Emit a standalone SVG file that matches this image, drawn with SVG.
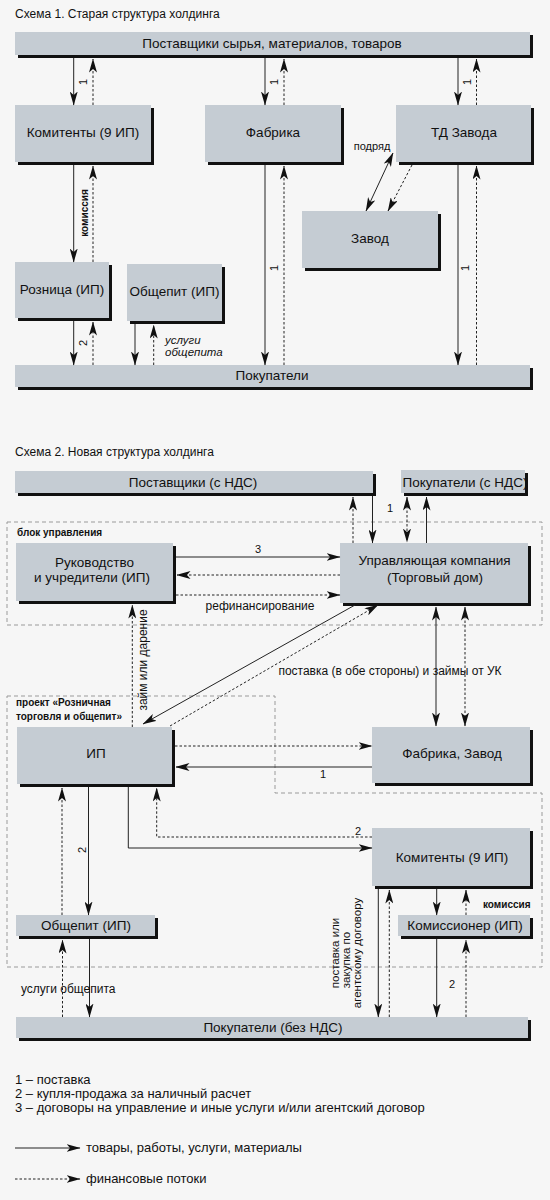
<svg xmlns="http://www.w3.org/2000/svg" width="550" height="1200" viewBox="0 0 550 1200">
<style>
.bg{fill:#f6f6f6}
.box{fill:#c5ccd3}
.sh{fill:#111}
.t{font-family:"Liberation Sans",Arial,sans-serif;font-size:13.5px;fill:#111;text-anchor:middle}
.h{font-family:"Liberation Sans",Arial,sans-serif;font-size:12px;fill:#111}
.l{font-family:"Liberation Sans",Arial,sans-serif;font-size:12px;fill:#111}
.lg{font-family:"Liberation Sans",Arial,sans-serif;font-size:13px;fill:#111}
.lm{font-family:"Liberation Sans",Arial,sans-serif;font-size:12px;fill:#111;text-anchor:middle}
.n{font-family:"Liberation Sans",Arial,sans-serif;font-size:11px;fill:#111;text-anchor:middle}
.b{font-family:"Liberation Sans",Arial,sans-serif;font-size:10px;font-weight:bold;fill:#111}
.bm{font-family:"Liberation Sans",Arial,sans-serif;font-size:10px;font-weight:bold;fill:#111;text-anchor:middle}
.i{font-family:"Liberation Sans",Arial,sans-serif;font-size:11.5px;font-style:italic;fill:#111}
.s{fill:none;stroke:#222;stroke-width:1}
.d{fill:none;stroke:#222;stroke-width:1;stroke-dasharray:2.5 2}
.blk{fill:none;stroke:#9a9a9a;stroke-width:1;stroke-dasharray:4 3}
.e{marker-end:url(#ah)}
.se{marker-start:url(#ah);marker-end:url(#ah)}
</style>
<defs>
<marker id="ah" viewBox="0 0 14 8" refX="13.5" refY="4" markerWidth="14" markerHeight="8" orient="auto-start-reverse" markerUnits="userSpaceOnUse">
<path d="M0,0 L14,4 L0,8 L3.5,4 z" fill="#111"/>
</marker>
</defs>
<rect class="bg" x="0" y="0" width="550" height="1200"/>

<text class="h" x="15" y="18">Схема 1. Старая структура холдинга</text>

<g id="s1-suppliers"><rect class="sh" x="18" y="35" width="515" height="23"/><rect class="box" x="15" y="32" width="515" height="23"/><text class="t" x="272" y="48">Поставщики сырья, материалов, товаров</text></g>
<g id="s1-komitenty"><rect class="sh" x="18" y="108" width="136" height="57"/><rect class="box" x="15" y="105" width="136" height="57"/><text class="t" x="83" y="137">Комитенты (9 ИП)</text></g>
<g id="s1-fabrika"><rect class="sh" x="208" y="108" width="136" height="57"/><rect class="box" x="205" y="105" width="136" height="57"/><text class="t" x="273" y="137">Фабрика</text></g>
<g id="s1-td"><rect class="sh" x="399" y="108" width="135" height="57"/><rect class="box" x="396" y="105" width="135" height="57"/><text class="t" x="464" y="137">ТД Завода</text></g>
<g id="s1-zavod"><rect class="sh" x="305" y="214" width="136" height="57"/><rect class="box" x="302" y="211" width="136" height="57"/><text class="t" x="370" y="243">Завод</text></g>
<g id="s1-roznica"><rect class="sh" x="18" y="265" width="94" height="56"/><rect class="box" x="15" y="262" width="94" height="56"/><text class="t" x="62" y="294">Розница (ИП)</text></g>
<g id="s1-obshchepit"><rect class="sh" x="130" y="267" width="95" height="57"/><rect class="box" x="127" y="264" width="95" height="57"/><text class="t" x="174.5" y="296">Общепит (ИП)</text></g>
<g id="s1-pokupateli"><rect class="sh" x="18" y="368" width="515" height="22"/><rect class="box" x="15" y="365" width="515" height="22"/><text class="t" x="272" y="380">Покупатели</text></g>

<text class="h" x="15" y="456">Схема 2. Новая структура холдинга</text>

<g id="s2-blocks">
<rect class="blk" x="7" y="522" width="535" height="103"/>
<path class="blk" d="M7,696 H275 V793 H542 V967 H7 Z"/>
<text class="b" x="17" y="536">блок управления</text>
<text class="b" x="16" y="706">проект «Розничная</text>
<text class="b" x="16" y="720">торговля и общепит»</text>
</g>

<g id="s2-suppliers"><rect class="sh" x="18" y="474" width="358" height="22"/><rect class="box" x="15" y="471" width="358" height="22"/><text class="t" x="193" y="487">Поставщики (с НДС)</text></g>
<g id="s2-buyers-vat"><rect class="sh" x="404" y="473" width="124" height="23"/><rect class="box" x="401" y="470" width="124" height="23"/><text class="t" x="465" y="487">Покупатели (с НДС)</text></g>
<g id="s2-management"><rect class="sh" x="19" y="546" width="157" height="58"/><rect class="box" x="16" y="543" width="157" height="58"/><text class="t" x="94.5" y="567">Руководство</text><text class="t" x="92" y="582">и учредители (ИП)</text></g>
<g id="s2-uk"><rect class="sh" x="343" y="546" width="188" height="60"/><rect class="box" x="340" y="543" width="188" height="60"/><text class="t" x="434.5" y="565">Управляющая компания</text><text class="t" x="435" y="582">(Торговый дом)</text></g>
<g id="s2-ip"><rect class="sh" x="20" y="730" width="155" height="57"/><rect class="box" x="17" y="727" width="155" height="57"/><text class="t" x="96" y="758">ИП</text></g>
<g id="s2-factory"><rect class="sh" x="375" y="730" width="158" height="56"/><rect class="box" x="372" y="727" width="158" height="56"/><text class="t" x="452" y="758">Фабрика, Завод</text></g>
<g id="s2-komitenty"><rect class="sh" x="375" y="831" width="158" height="58"/><rect class="box" x="372" y="828" width="158" height="58"/><text class="t" x="452" y="862">Комитенты (9 ИП)</text></g>
<g id="s2-obshchepit"><rect class="sh" x="19" y="918" width="139" height="21"/><rect class="box" x="16" y="915" width="139" height="21"/><text class="t" x="86" y="930">Общепит (ИП)</text></g>
<g id="s2-komissioner"><rect class="sh" x="401" y="918" width="132" height="21"/><rect class="box" x="398" y="915" width="132" height="21"/><text class="t" x="465" y="930">Комиссионер (ИП)</text></g>
<g id="s2-buyers"><rect class="sh" x="19" y="1020" width="512" height="21"/><rect class="box" x="16" y="1017" width="512" height="21"/><text class="t" x="273" y="1032">Покупатели (без НДС)</text></g>

<g id="connectors">
<line class="s e" x1="73.7" y1="58" x2="73.7" y2="105"/>
<line class="d e" x1="93" y1="105" x2="93" y2="59"/>
<line class="s e" x1="265" y1="58" x2="265" y2="105"/>
<line class="d e" x1="284" y1="105" x2="284" y2="59"/>
<line class="s e" x1="458" y1="58" x2="458" y2="105"/>
<line class="d e" x1="476.5" y1="105" x2="476.5" y2="59"/>
<line class="s e" x1="73.7" y1="165" x2="73.7" y2="262"/>
<line class="d e" x1="93" y1="262" x2="93" y2="166"/>
<line class="s e" x1="73.7" y1="321" x2="73.7" y2="365"/>
<line class="d e" x1="93" y1="365" x2="93" y2="322"/>
<line class="s e" x1="135" y1="324" x2="135" y2="365"/>
<line class="d e" x1="153.7" y1="365" x2="153.7" y2="325"/>
<line class="s e" x1="265" y1="165" x2="265" y2="365"/>
<line class="d e" x1="284" y1="365" x2="284" y2="166"/>
<line class="s e" x1="458" y1="165" x2="458" y2="365"/>
<line class="d e" x1="476.5" y1="365" x2="476.5" y2="166"/>
<line class="s se" x1="393" y1="153" x2="366" y2="211"/>
<line class="d e" x1="412" y1="165" x2="388" y2="211"/>
<text class="n" transform="translate(87,82) rotate(-90)">1</text>
<text class="n" transform="translate(278,82) rotate(-90)">1</text>
<text class="n" transform="translate(471,82) rotate(-90)">1</text>
<text class="bm" transform="translate(87.5,213) rotate(-90)">комиссия</text>
<text class="n" transform="translate(87,343) rotate(-90)">2</text>
<text class="n" transform="translate(278,268) rotate(-90)">1</text>
<text class="n" transform="translate(469,268) rotate(-90)">1</text>
<text class="i" x="165" y="344">услуги</text>
<text class="i" x="165" y="356">общепита</text>
<text class="n" x="372" y="150">подряд</text>

<line class="d e" x1="353" y1="543" x2="353" y2="497"/>
<line class="s e" x1="372.5" y1="496" x2="372.5" y2="543"/>
<line class="d se" x1="407" y1="497" x2="407" y2="542"/>
<line class="s e" x1="426.5" y1="543" x2="426.5" y2="497"/>
<text class="n" x="390" y="512">1</text>
<line class="s e" x1="176" y1="557" x2="340" y2="557"/>
<text class="n" x="258" y="553">3</text>
<line class="d e" x1="340" y1="575" x2="177" y2="575"/>
<line class="d e" x1="176" y1="595" x2="340" y2="595"/>
<text class="lm" x="260" y="610">рефинансирование</text>
<line class="s e" x1="355" y1="605" x2="143" y2="724"/>
<line class="d e" x1="170" y1="726" x2="378" y2="605"/>
<line class="d e" x1="132.3" y1="727" x2="132.3" y2="605"/>
<text class="lm" transform="translate(147,660) rotate(-90)">займ или дарение</text>
<line class="s se" x1="436" y1="607" x2="436" y2="726"/>
<line class="d se" x1="465" y1="607" x2="465" y2="726"/>
<text class="lm" x="390" y="675">поставка (в обе стороны) и займы от УК</text>
<line class="d e" x1="175" y1="746" x2="372" y2="746"/>
<line class="s e" x1="372" y1="767" x2="176" y2="767"/>
<text class="n" x="323" y="778">1</text>
<line class="d e" x1="62" y1="915" x2="62" y2="788"/>
<line class="s e" x1="88.5" y1="787" x2="88.5" y2="915"/>
<text class="n" transform="translate(86,850) rotate(-90)">2</text>
<path class="s e" d="M128.3,787 V848 H372"/>
<path class="d e" d="M372,837 H156.7 V788"/>
<text class="n" x="358" y="835">2</text>
<line class="d e" x1="62.5" y1="1017" x2="62.5" y2="940"/>
<line class="s e" x1="89.5" y1="939" x2="89.5" y2="1017"/>
<text class="l" x="21" y="993">услуги общепита</text>
<line class="s e" x1="378.3" y1="889" x2="378.3" y2="1017"/>
<line class="d e" x1="389.3" y1="1017" x2="389.3" y2="890"/>
<line class="s e" x1="436.7" y1="889" x2="436.7" y2="915"/>
<line class="d e" x1="466" y1="915" x2="466" y2="890"/>
<text class="b" x="483" y="908">комиссия</text>
<line class="s e" x1="436.7" y1="939" x2="436.7" y2="1017"/>
<line class="d e" x1="466" y1="1017" x2="466" y2="940"/>
<text class="n" x="452" y="988">2</text>
<text class="lm" style="font-size:11.5px" transform="translate(338.5,953) rotate(-90)">поставка или</text>
<text class="lm" style="font-size:11.5px" transform="translate(349.5,960) rotate(-90)">закупка по</text>
<text class="lm" style="font-size:11.5px" transform="translate(360.5,953) rotate(-90)">агентскому договору</text>
</g>

<g id="legend">
<text class="lg" x="15" y="1084">1 – поставка</text>
<text class="lg" x="15" y="1098">2 – купля-продажа за наличный расчет</text>
<text class="lg" x="15" y="1112">3 – договоры на управление и иные услуги и/или агентский договор</text>
<line class="s e" x1="15" y1="1148" x2="80" y2="1148"/>
<text class="lg" x="86" y="1152">товары, работы, услуги, материалы</text>
<line class="d e" x1="15" y1="1179" x2="80" y2="1179"/>
<text class="lg" x="86" y="1183">финансовые потоки</text>
</g>
</svg>
